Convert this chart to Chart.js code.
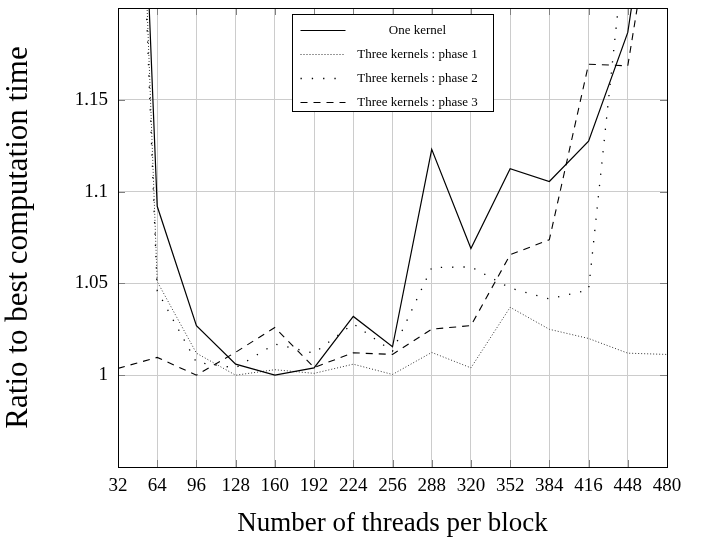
<!DOCTYPE html>
<html>
<head>
<meta charset="utf-8">
<script src="https://cdn.jsdelivr.net/npm/chart.js@4.4.1/dist/chart.umd.min.js"></script>
<style>
  html, body { margin: 0; padding: 0; background: #fff; }
  #wrap { width: 709px; height: 540px; }
</style>
</head>
<body>
<div id="wrap"><canvas id="ratioChart" width="709" height="540"></canvas></div>
<script>
// Threads per block (x axis)
const threads = [32, 64, 96, 128, 160, 192, 224, 256, 288, 320, 352, 384, 416, 448, 480];

// Ratio to best computation time
const oneKernel = [1.62, 1.092, 1.027, 1.006, 1.000, 1.004, 1.032, 1.0155, 1.123, 1.069, 1.1125, 1.1055, 1.1275, 1.1867, 1.33];
const phase1 = [1.63, 1.051, 1.012, 1.000, 1.003, 1.001, 1.006, 1.0004, 1.0124, 1.004, 1.037, 1.025, 1.020, 1.012, 1.0113];
const phase2 = [1.60, 1.046, 1.007, 1.004, 1.017, 1.012, 1.028, 1.013, 1.0586, 1.059, 1.0475, 1.0415, 1.0465, 1.25, 1.45];
const phase3 = [1.0037, 1.0097, 1.000, 1.0125, 1.026, 1.0042, 1.0122, 1.0113, 1.0251, 1.027, 1.0656, 1.0738, 1.1694, 1.1685, 1.30];

const seriesNames = ['One kernel', 'Three kernels : phase 1', 'Three kernels : phase 2', 'Three kernels : phase 3'];

// labelled y ticks
const yTicks = [1, 1.05, 1.1, 1.15];

const serif = "'Liberation Serif', 'Times New Roman', serif";

function points(values) {
  return threads.map((t, i) => ({ x: t, y: values[i] }));
}

// Frame, inner tick marks and the boxed legend
const framePlugin = {
  id: 'frame',
  afterDraw(chart) {
    const { ctx, chartArea: a, scales } = chart;
    ctx.save();
    // small ticks pointing inwards
    ctx.strokeStyle = '#808080';
    ctx.lineWidth = 1;
    ctx.setLineDash([]);
    ctx.beginPath();
    scales.x.ticks.forEach(t => {
      const x = Math.round(scales.x.getPixelForValue(t.value)) + 0.5;
      ctx.moveTo(x, a.bottom); ctx.lineTo(x, a.bottom - 7);
      ctx.moveTo(x, a.top); ctx.lineTo(x, a.top + 7);
    });
    scales.y.ticks.forEach(t => {
      const y = Math.round(scales.y.getPixelForValue(t.value)) + 0.5;
      ctx.moveTo(a.left, y); ctx.lineTo(a.left + 7, y);
      ctx.moveTo(a.right, y); ctx.lineTo(a.right - 7, y);
    });
    ctx.stroke();

    // frame
    ctx.strokeStyle = '#000';
    ctx.lineWidth = 1;
    ctx.strokeRect(Math.round(a.left) + 0.5, Math.round(a.top) + 0.5,
      Math.round(a.right - a.left), Math.round(a.bottom - a.top));

    // legend
    const w = 201, h = 97;
    const bx = Math.round((a.left + a.right) / 2 - w / 2) + 0.5;
    const by = Math.round(a.top + 6) + 0.5;
    ctx.fillStyle = '#fff';
    ctx.fillRect(bx, by, w, h);
    ctx.strokeRect(bx, by, w, h);
    ctx.font = '13px ' + serif;
    ctx.textAlign = 'center';
    ctx.textBaseline = 'middle';
    chart.data.datasets.forEach((ds, i) => {
      const y = by + 16 + i * 24;
      ctx.strokeStyle = ds.borderColor;
      ctx.lineWidth = ds.borderWidth;
      ctx.setLineDash(ds.borderDash || []);
      ctx.beginPath();
      ctx.moveTo(bx + 8, y);
      ctx.lineTo(bx + 53, y);
      ctx.stroke();
      ctx.setLineDash([]);
      ctx.fillStyle = '#000';
      ctx.fillText(ds.label, bx + 125, y);
    });
    ctx.restore();
  }
};

const ctx = document.getElementById('ratioChart').getContext('2d');

new Chart(ctx, {
  type: 'line',
  data: {
    datasets: [
      { label: seriesNames[0], data: points(oneKernel), borderColor: '#000', borderWidth: 1.2, borderDash: [] },
      { label: seriesNames[1], data: points(phase1), borderColor: '#333', borderWidth: 1, borderDash: [1, 2] },
      { label: seriesNames[2], data: points(phase2), borderColor: '#000', borderWidth: 1.3, borderDash: [1.3, 10] },
      { label: seriesNames[3], data: points(phase3), borderColor: '#000', borderWidth: 1.1, borderDash: [7, 6] }
    ]
  },
  options: {
    responsive: false,
    animation: false,
    layout: { padding: { left: 0, right: 42, top: 8, bottom: 0 } },
    elements: {
      point: { radius: 0 },
      line: { tension: 0, fill: false }
    },
    scales: {
      x: {
        type: 'linear',
        min: 32,
        max: 480,
        afterFit: s => { s.height = 73; s.paddingLeft = 0; s.paddingRight = 0; },
        ticks: {
          stepSize: 32,
          padding: 8,
          color: '#000',
          font: { family: serif, size: 19 }
        },
        grid: { color: '#cccccc', lineWidth: 1, drawTicks: false },
        border: { display: false },
        title: {
          display: true,
          text: 'Number of threads per block',
          color: '#000',
          font: { family: serif, size: 27 },
          padding: { top: 0, bottom: 0 }
        }
      },
      y: {
        min: 0.95,
        max: 1.2,
        afterFit: s => { s.width = 118; s.paddingTop = 0; s.paddingBottom = 0; },
        afterBuildTicks: s => { s.ticks = yTicks.map(v => ({ value: v })); },
        ticks: {
          padding: 10,
          color: '#000',
          font: { family: serif, size: 19 },
          callback: v => String(Math.round(v * 100) / 100)
        },
        grid: { color: '#cccccc', lineWidth: 1, drawTicks: false },
        border: { display: false },
        title: {
          display: true,
          text: 'Ratio to best computation time',
          color: '#000',
          font: { family: serif, size: 31 },
          padding: { top: 0, bottom: 0 }
        }
      }
    },
    plugins: {
      legend: { display: false },
      tooltip: { enabled: false }
    }
  },
  plugins: [framePlugin]
});
</script>
</body>
</html>
